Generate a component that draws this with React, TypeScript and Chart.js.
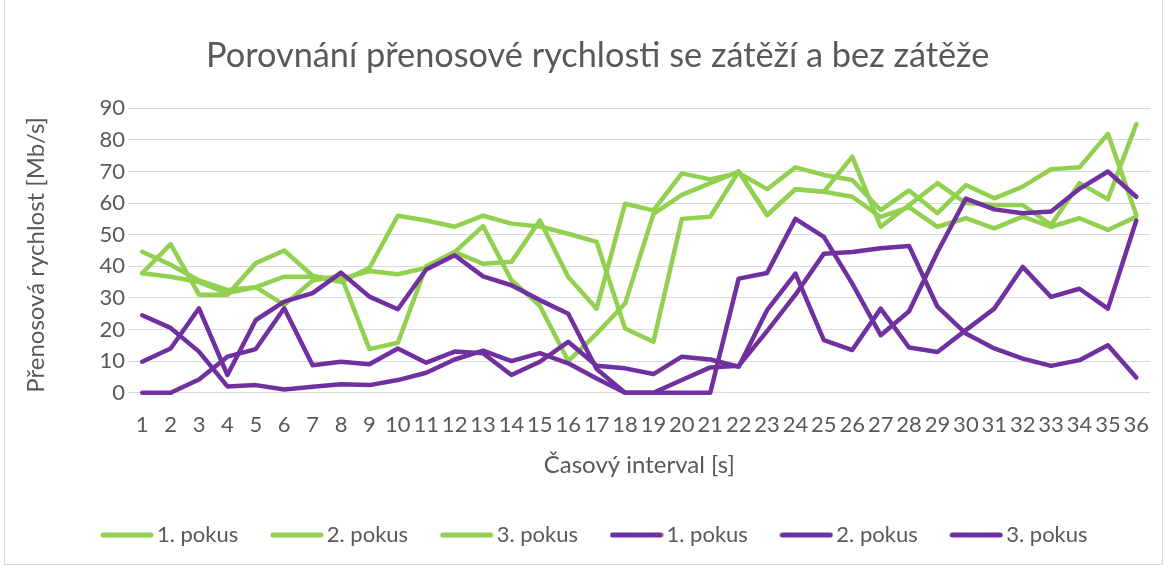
import { useEffect, useRef } from 'react';
import { Chart, registerables } from 'chart.js';

Chart.register(...registerables);

const categories = ['1', '2', '3', '4', '5', '6', '7', '8', '9', '10', '11', '12', '13', '14', '15', '16', '17', '18', '19', '20', '21', '22', '23', '24', '25', '26', '27', '28', '29', '30', '31', '32', '33', '34', '35', '36'];

// se zátěží (green)
const green1 = [37.8, 47, 31, 31, 41, 45, 37, 35, 39.5, 56, 54.5, 52.5, 56, 53.5, 52.6, 50.3, 47.7, 20.3, 16.1, 55, 55.7, 70, 56.2, 64.4, 63.6, 62, 55.6, 58.7, 52.5, 55.2, 52, 55.7, 52.5, 55.2, 51.5, 55.7];
const green2 = [44.6, 40.5, 35.5, 32.5, 33.4, 36.7, 36.7, 36, 38.5, 37.5, 39.5, 44.5, 52.7, 35.6, 27.5, 10, 18.7, 28.2, 56.6, 62.6, 66.3, 70, 56.2, 64.4, 63.6, 74.7, 52.5, 59.4, 66.3, 60, 59.4, 59.4, 53.1, 66.3, 61.2, 85];
const green3 = [37.8, 36.7, 35, 31.5, 33.4, 27.8, 35.5, 37, 13.8, 15.8, 40, 44.5, 40.8, 41.4, 54.5, 36.6, 26.6, 59.8, 57.7, 69.4, 67.5, 69.5, 64.4, 71.3, 68.9, 67.3, 57.8, 64, 56.8, 65.7, 61.5, 65.2, 70.7, 71.3, 81.9, 56.2];

// bez zátěže (purple)
const purple1 = [24.5, 20.5, 13, 2, 2.4, 1, 1.9, 2.7, 2.4, 4, 6.3, 10.5, 13.3, 10, 12.5, 9.3, 4.5, 0, 0, 4, 8, 8.5, 19.5, 31, 44, 44.5, 45.7, 46.4, 27.2, 18.7, 14, 10.8, 8.5, 10.3, 15, 4.8];
const purple2 = [9.8, 14, 26.7, 5.6, 23, 28.8, 31.5, 38, 30.4, 26.4, 39, 43.5, 36.8, 34, 29.3, 25, 7.5, 0, 0, 0, 0, 36.1, 37.9, 55, 49.3, 34.5, 18.2, 25.8, 44.5, 61.4, 58, 56.8, 57.3, 64.5, 70, 62];
const purple3 = [0, 0, 4.2, 11.4, 13.8, 26.7, 8.7, 9.8, 9, 14, 9.5, 13, 12.5, 5.6, 9.8, 16.1, 8.5, 7.7, 5.9, 11.4, 10.5, 8.2, 26.1, 37.7, 16.6, 13.5, 26.6, 14.3, 12.9, 19.8, 26.6, 39.8, 30.3, 32.9, 26.6, 54.5];

const seriesLabels = ['1. pokus', '2. pokus', '3. pokus', '1. pokus', '2. pokus', '3. pokus'];
const yTicks = [0, 10, 20, 30, 40, 50, 60, 70, 80, 90];

const titleText = 'Porovnání přenosové rychlosti se zátěží a bez zátěže';
const xTitle = 'Časový interval [s]';
const yTitle = 'Přenosová rychlost [Mb/s]';

const GREEN = '#92D050';
const PURPLE = '#7030A0';
const TEXT = '#595959';
const GRID = '#d9d9d9';
const FONT = 'Lato, "Open Sans", sans-serif';

const LEGEND_H = 82.5;

function legendSample(color: string) {
  const c = document.createElement('canvas');
  c.width = 54;
  c.height = 6;
  const g = c.getContext('2d') as CanvasRenderingContext2D;
  g.strokeStyle = color;
  g.lineWidth = 5;
  g.lineCap = 'round';
  g.beginPath();
  g.moveTo(3, 3);
  g.lineTo(51, 3);
  g.stroke();
  return c;
}

export default function App() {
  const ref = useRef<HTMLCanvasElement>(null);

  useEffect(() => {
    document.body.style.margin = '0';
    const series = [green1, green2, green3, purple1, purple2, purple3];
    const samples = [legendSample(GREEN), legendSample(PURPLE)];
    const legendFix = {
      id: 'legendFix',
      beforeUpdate(chart: any) {
        const lg = chart.legend;
        if (lg && !lg.__patched) {
          const orig = lg.fit.bind(lg);
          lg.fit = function () {
            orig();
            this.height = LEGEND_H;
          };
          lg.__patched = true;
        }
      },
    };
    const chart = new Chart(ref.current as HTMLCanvasElement, {
      type: 'line',
      data: {
        labels: categories,
        datasets: series.map((d, i) => ({
          label: seriesLabels[i],
          data: d,
          borderColor: i < 3 ? GREEN : PURPLE,
          backgroundColor: i < 3 ? GREEN : PURPLE,
          borderWidth: 4.5,
          pointRadius: 0,
          pointHoverRadius: 0,
          tension: 0,
          borderJoinStyle: 'round' as const,
          borderCapStyle: 'round' as const,
          order: 5 - i,
          clip: false as any,
        })),
      },
      options: {
        animation: false,
        responsive: true,
        maintainAspectRatio: false,
        events: [],
        layout: { padding: { left: 45, right: 19.5, top: 0, bottom: 0 } },
        plugins: {
          title: {
            display: true,
            text: titleText,
            color: TEXT,
            font: { family: FONT, size: 34.3, weight: 'normal' },
            padding: { top: 35.6, bottom: 31.5 },
          },
          legend: {
            position: 'bottom',
            labels: {
              usePointStyle: true,
              pointStyleWidth: 38,
              boxHeight: 6,
              padding: 39.5,
              color: TEXT,
              font: { family: FONT, size: 22 },
              sort: (a: any, b: any) => a.datasetIndex - b.datasetIndex,
              generateLabels: (c: any) =>
                c.data.datasets.map((ds: any, i: number) => ({
                  text: ds.label,
                  fillStyle: ds.borderColor,
                  strokeStyle: ds.borderColor,
                  fontColor: TEXT,
                  lineWidth: 0,
                  hidden: false,
                  datasetIndex: i,
                  pointStyle: samples[i < 3 ? 0 : 1],
                })),
            },
          },
          tooltip: { enabled: false },
        },
        scales: {
          x: {
            offset: true,
            grid: { display: false, drawTicks: false },
            border: { display: false },
            ticks: { color: TEXT, font: { family: FONT, size: 22 }, padding: 19, maxRotation: 0, autoSkip: false },
            title: { display: true, text: xTitle, color: TEXT, font: { family: FONT, size: 24 }, padding: { top: 4, bottom: 5.1 } },
            afterFit: (s: any) => {
              s.height = 91.8;
            },
          },
          y: {
            min: 0,
            max: 90,
            afterBuildTicks: (s: any) => {
              s.ticks = yTicks.map((v) => ({ value: v }));
            },
            ticks: { color: TEXT, font: { family: FONT, size: 22 }, padding: 3 },
            grid: { color: GRID, lineWidth: 1, drawTicks: false },
            border: { display: false },
            title: {
              display: true,
              text: yTitle,
              align: 'start',
              color: TEXT,
              font: { family: FONT, size: 24 },
              padding: { top: -23.4, bottom: 0 },
            },
            afterFit: (s: any) => {
              s.width = 83;
            },
          },
        },
      },
      plugins: [legendFix],
    } as any);
    return () => chart.destroy();
  }, []);

  return (
    <div style={{ position: 'fixed', left: 0, top: 0, width: 1170, height: 567, background: '#fff' }}>
      <canvas ref={ref} />
      <div
        style={{
          position: 'absolute',
          left: 4,
          top: -1,
          width: 1157,
          height: 564,
          border: '1px solid #d9d9d9',
          pointerEvents: 'none',
        }}
      />
    </div>
  );
}
